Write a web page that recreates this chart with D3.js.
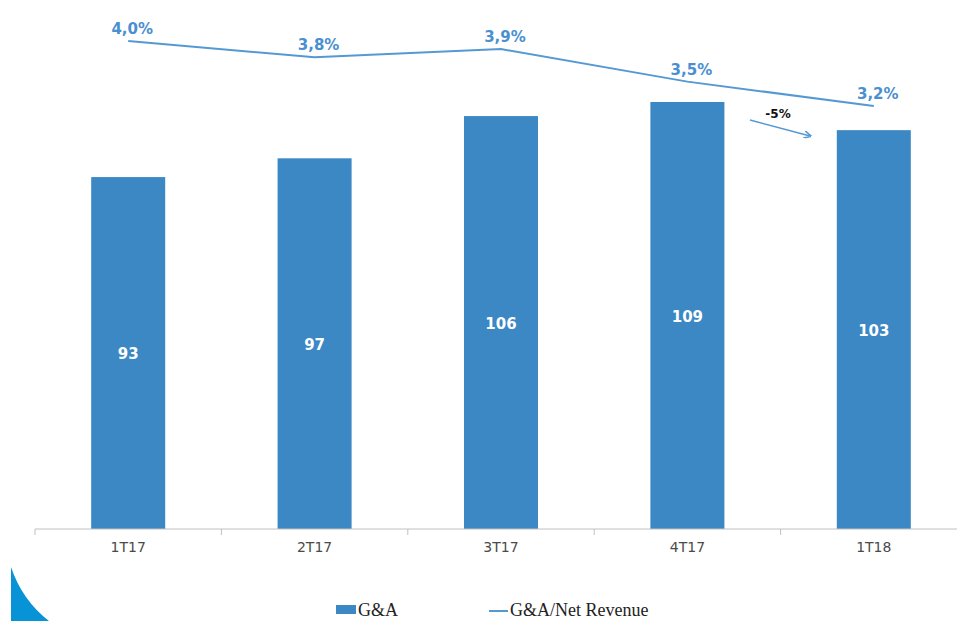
<!DOCTYPE html>
<html>
<head>
<meta charset="utf-8">
<script src="https://cdn.jsdelivr.net/npm/d3@7"></script>
<style>
  body { margin: 0; background: #fff; }
  svg { display: block; }
</style>
</head>
<body>
<svg id="chart" width="957" height="621"></svg>
<script>
const quarters = ['1T17', '2T17', '3T17', '4T17', '1T18'];
const gaValues = [93, 97, 106, 109, 103];
const ratioValues = [4.0, 3.8, 3.9, 3.5, 3.2];
const ratioLabels = ['4,0%', '3,8%', '3,9%', '3,5%', '3,2%'];

const svg = d3.select('#chart');
const barColor = '#3b88c4';
const lineColor = '#5599d3';

const x = d3.scaleBand()
  .domain(quarters)
  .range([35, 967])
  .paddingInner(0)
  .paddingOuter(0);

// bar axis does not start at zero in the source
const yBar = d3.scaleLinear().domain([18, 109]).range([529, 102]);
const yLine = d3.scaleLinear().domain([3.2, 4.0]).range([106, 41]);

const barW = 74;
const cx = d => x(d) + x.bandwidth() / 2;

// bars
svg.append('g')
  .selectAll('rect')
  .data(quarters)
  .join('rect')
  .attr('x', d => cx(d) - barW / 2)
  .attr('y', (d, i) => yBar(gaValues[i]))
  .attr('width', barW)
  .attr('height', (d, i) => 529 - yBar(gaValues[i]))
  .attr('fill', barColor);

// bar value labels
svg.append('g')
  .selectAll('text')
  .data(quarters)
  .join('text')
  .attr('x', d => cx(d))
  .attr('y', (d, i) => (yBar(gaValues[i]) + 529) / 2 + 6)
  .attr('text-anchor', 'middle')
  .attr('fill', '#fff')
  .style('font', 'bold 15px "DejaVu Sans", Verdana, sans-serif')
  .text((d, i) => gaValues[i]);

// x axis
const axis = svg.append('g')
  .attr('transform', 'translate(0,529)')
  .call(d3.axisBottom(x).tickSize(0).tickPadding(13));
axis.select('.domain').attr('stroke', '#c0c0c0').attr('d', 'M35,0H957');
axis.selectAll('text')
  .attr('fill', '#4a4a4a')
  .style('font', '14px "DejaVu Sans", Verdana, sans-serif');

svg.append('g')
  .selectAll('line')
  .data(quarters)
  .join('line')
  .attr('x1', d => x(d))
  .attr('x2', d => x(d))
  .attr('y1', 529)
  .attr('y2', 535)
  .attr('stroke', '#c0c0c0');

// ratio line
const line = d3.line()
  .x((d, i) => cx(quarters[i]))
  .y(d => yLine(d));

svg.append('path')
  .datum(ratioValues)
  .attr('d', line)
  .attr('fill', 'none')
  .attr('stroke', lineColor)
  .attr('stroke-width', 2);

svg.append('g')
  .selectAll('text')
  .data(quarters)
  .join('text')
  .attr('x', d => cx(d) + 4)
  .attr('y', (d, i) => yLine(ratioValues[i]) - 7)
  .attr('text-anchor', 'middle')
  .attr('fill', '#4a8fcf')
  .style('font', 'bold 15px "DejaVu Sans", Verdana, sans-serif')
  .text((d, i) => ratioLabels[i]);

// -5% annotation arrow
svg.append('defs').append('marker')
  .attr('id', 'arrow')
  .attr('viewBox', '0 0 10 10')
  .attr('refX', 8).attr('refY', 5)
  .attr('markerWidth', 5).attr('markerHeight', 5)
  .attr('orient', 'auto')
  .append('path')
  .attr('d', 'M0,0L10,5L0,10')
  .attr('fill', 'none')
  .attr('stroke', lineColor)
  .attr('stroke-width', 2);

svg.append('line')
  .attr('x1', 750).attr('y1', 120)
  .attr('x2', 810).attr('y2', 136)
  .attr('stroke', lineColor)
  .attr('stroke-width', 1.5)
  .attr('marker-end', 'url(#arrow)');

svg.append('text')
  .attr('x', 778).attr('y', 118)
  .attr('text-anchor', 'middle')
  .attr('fill', '#111')
  .style('font', 'bold 12px "DejaVu Sans", Verdana, sans-serif')
  .text('-5%');

// corner decoration
svg.append('path')
  .attr('d', 'M11,567 L11,621 L49,621 Q22,600 11,567 Z')
  .attr('fill', '#0793d6');

// legend
const legend = svg.append('g')
  .style('font', '18px "Liberation Serif", "Times New Roman", serif')
  .attr('fill', '#222');

legend.append('rect')
  .attr('x', 336).attr('y', 605)
  .attr('width', 20).attr('height', 9)
  .attr('fill', barColor);
legend.append('text').attr('x', 358).attr('y', 616).text('G&A');

legend.append('line')
  .attr('x1', 489).attr('x2', 508)
  .attr('y1', 611).attr('y2', 611)
  .attr('stroke', lineColor)
  .attr('stroke-width', 2);
legend.append('text').attr('x', 510).attr('y', 616).text('G&A/Net Revenue');
</script>
</body>
</html>
